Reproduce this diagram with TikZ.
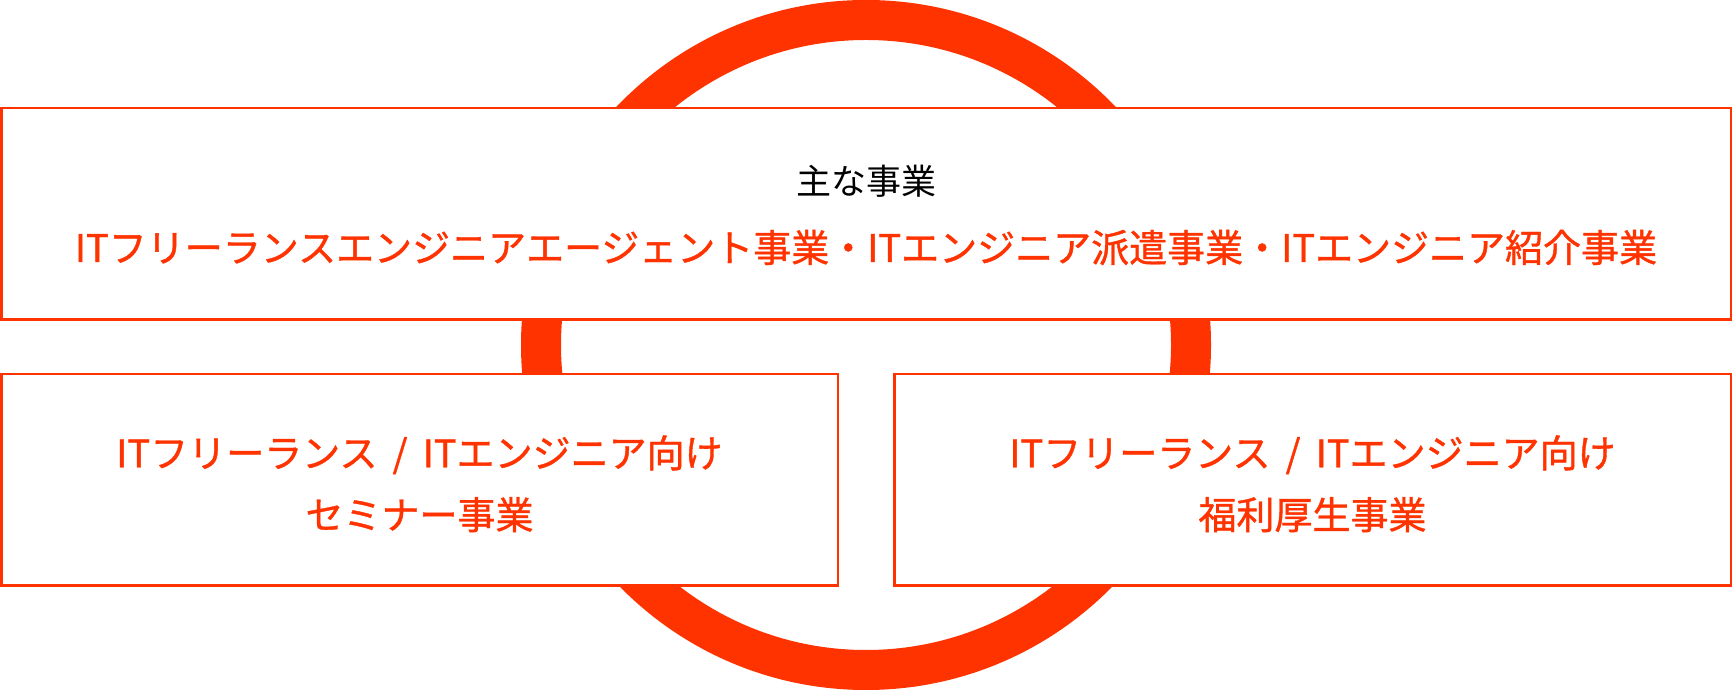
\documentclass[tikz,border=0pt]{standalone}
\usepackage{fontspec}
\setmainfont{Noto Sans CJK JP}
\newfontfamily\jpmedium[FakeBold=1]{Noto Sans CJK JP}
\usetikzlibrary{positioning}
\definecolor{brandred}{RGB}{255,51,0}
\tikzstyle{ring} = [circle, minimum size = 325pt, inner sep = 0pt, draw = brandred, line width = 20pt]
\tikzstyle{box} = [rectangle, minimum height = 105.75pt, inner sep = 0pt, align = center, draw = brandred, line width = 1.25pt, fill = white, text = brandred]
\tikzstyle{mainbox} = [box, minimum width = 864.75pt, font = \fontsize{19}{33.5}\selectfont\jpmedium]
\tikzstyle{subbox} = [box, minimum width = 418.25pt, font = \fontsize{19}{30.9}\selectfont\jpmedium]

\begin{document}
\begin{tikzpicture}[x = 0.5pt, y = 0.5pt]
    \useasboundingbox (0,0) rectangle (1732,690);
    \node(ring)[ring] at (866,345) {};
    \node(business)[mainbox] at (866,476) {{\color{black}\fontsize{17.5}{33.5}\selectfont\normalfont\rule{0pt}{20pt}主な事業}\\ITフリーランスエンジニアエージェント事業・ITエンジニア派遣事業・ITエンジニア紹介事業\rule[-5.6pt]{0pt}{5.6pt}};
    \node(seminar)[subbox] at (419.5,210) {\rule{0pt}{22pt}ITフリーランス\hspace{0.4em}/\hspace{0.4em}ITエンジニア向け\\セミナー事業\rule[-3.8pt]{0pt}{3.8pt}};
    \node(welfare)[subbox] at (1312.5,210) {\rule{0pt}{22pt}ITフリーランス\hspace{0.4em}/\hspace{0.4em}ITエンジニア向け\\福利厚生事業\rule[-3.8pt]{0pt}{3.8pt}};
\end{tikzpicture}
\end{document}
